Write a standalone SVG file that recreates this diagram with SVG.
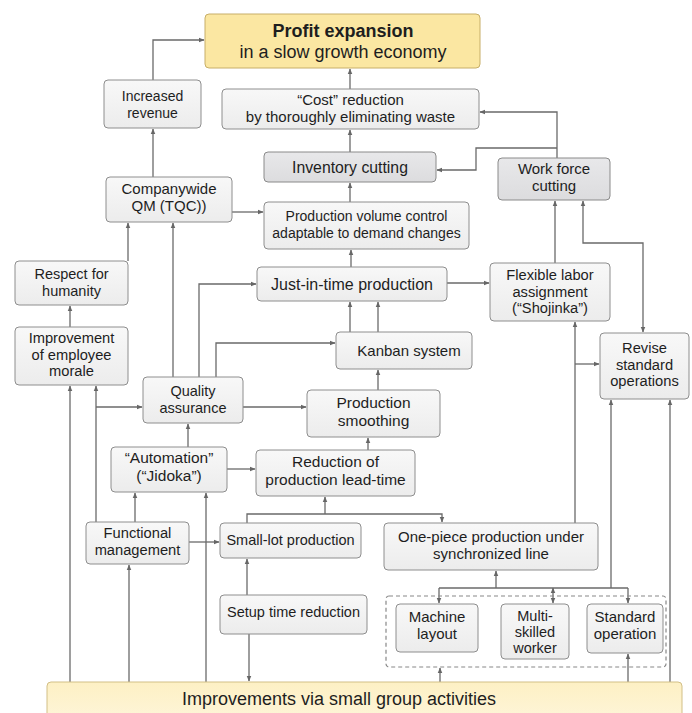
<svg xmlns="http://www.w3.org/2000/svg" width="692" height="713" viewBox="0 0 692 713" font-size="14.7">
<defs>
<marker id="ah" viewBox="0 0 10 10" refX="9" refY="5" markerWidth="6" markerHeight="6" orient="auto-start-reverse" markerUnits="userSpaceOnUse">
<path d="M0,1 L10,5 L0,9 Z" fill="#666"/>
</marker>
<linearGradient id="gBox" x1="0" y1="0" x2="0" y2="1">
<stop offset="0" stop-color="#f8f8f8"/><stop offset="1" stop-color="#ececec"/>
</linearGradient>
<linearGradient id="gDark" x1="0" y1="0" x2="0" y2="1">
<stop offset="0" stop-color="#e8e8ea"/><stop offset="1" stop-color="#dcdcde"/>
</linearGradient>
<linearGradient id="gBottom" x1="0" y1="0" x2="0" y2="1">
<stop offset="0" stop-color="#fdf0c4"/><stop offset="1" stop-color="#fef6dc"/>
</linearGradient>
</defs>
<style>
.box{fill:url(#gBox);stroke:#8e8e8e;stroke-width:1}
.dark{fill:url(#gDark);stroke:#8a8a8a;stroke-width:1}
.yel{fill:#fbe7a2;stroke:#c7ae68;stroke-width:1}
.bot{fill:url(#gBottom);stroke:#d2bf86;stroke-width:1}
.dash{fill:none;stroke:#888;stroke-width:1.2;stroke-dasharray:4 3}
text{font-family:"Liberation Sans",Arial,sans-serif;fill:#1e1e1e;text-anchor:middle}
.bold{font-weight:bold}
.con path{fill:none;stroke:#6a6a6a;stroke-width:1.3}
.ar{marker-end:url(#ah)}
</style>
<rect width="692" height="713" fill="#ffffff"/>

<g class="con" id="connectors">
<path class="ar" d="M153,80 V40 H204"/>
<path class="ar" d="M350,89 V69"/>
<path class="ar" d="M350,152 V130"/>
<path class="ar" d="M557,158 V112 H480"/>
<path class="ar" d="M557,148 H476 V170 H437"/>
<path class="ar" d="M350,202 V183"/>
<path class="ar" d="M153,177 V129"/>
<path class="ar" d="M232,212 H263"/>
<path class="ar" d="M351,267 V250"/>
<path class="ar" d="M128,261 V223"/>
<path class="ar" d="M173,377 V223"/>
<path class="ar" d="M70,327 V306"/>
<path class="ar" d="M199,377 V284 H256"/>
<path class="ar" d="M216,377 V343 H335"/>
<path class="ar" d="M350,332 V302"/>
<path class="ar" d="M378,332 V302"/>
<path class="ar" d="M447,283 H489"/>
<path class="ar" d="M555,263 V201"/>
<path class="ar" d="M583,201 V243 H643 V332" style="marker-start:url(#ah)"/>
<path class="ar" d="M378,390 V370"/>
<path class="ar" d="M243,407 H306"/>
<path class="ar" d="M96,522 V386"/>
<path class="ar" d="M96,407 H142"/>
<path class="ar" d="M70,682 V386"/>
<path class="ar" d="M188,447 V424"/>
<path class="ar" d="M227,469 H255"/>
<path class="ar" d="M368,450 V438"/>
<path class="ar" d="M135,522 V493"/>
<path class="ar" d="M206,682 V493"/>
<path class="ar" d="M189,542 H219"/>
<path class="ar" d="M129,682 V565"/>
<path class="ar" d="M247,523 V514 H442 V522"/>
<path class="ar" d="M325,514 V497"/>
<path class="ar" d="M247,595 V559"/>
<path class="ar" d="M249,634 V681"/>
<path class="ar" d="M575,523 V322"/>
<path class="ar" d="M575,364 H599"/>
<path class="ar" d="M496,588 V571"/>
<path d="M439,588 H628"/>
<path class="ar" d="M439,588 V603"/>
<path class="ar" d="M553,588 V603" style="marker-start:url(#ah)"/>
<path class="ar" d="M628,588 V603"/>
<path class="ar" d="M611,588 V400"/>
<path class="ar" d="M440,682 V668"/>
<path class="ar" d="M628,682 V654"/>
<path class="ar" d="M670,682 V400"/>
</g>

<g id="profit" font-size="18"><rect class="yel" x="205" y="14" width="275" height="54" rx="4"/>
<text class="bold" x="343" y="37">Profit expansion</text><text x="343" y="58">in a slow growth economy</text></g>

<g id="revenue" font-size="14"><rect class="box" x="104" y="80" width="97" height="48" rx="4"/>
<text x="152.5" y="101">Increased</text><text x="152.5" y="117.5">revenue</text></g>

<g id="cost" font-size="15"><rect class="box" x="222" y="89" width="257" height="40" rx="4"/>
<text x="350.5" y="105">“Cost” reduction</text><text x="350.5" y="122">by thoroughly eliminating waste</text></g>

<g id="inventory" font-size="15.8"><rect class="dark" x="264" y="152" width="172" height="30" rx="4"/>
<text x="350" y="172.5">Inventory cutting</text></g>

<g id="workforce" font-size="15"><rect class="dark" x="498" y="158" width="112" height="42" rx="4"/>
<text x="554" y="174">Work force</text><text x="554" y="191">cutting</text></g>

<g id="tqc" font-size="15"><rect class="box" x="106" y="177" width="126" height="45" rx="4"/>
<text x="169" y="194">Companywide</text><text x="169" y="211">QM (TQC))</text></g>

<g id="pvc" font-size="14"><rect class="box" x="264" y="202" width="205" height="47" rx="4"/>
<text x="366.5" y="221">Production volume control</text><text x="366.5" y="237.5">adaptable to demand changes</text></g>

<g id="respect" font-size="14.5"><rect class="box" x="15" y="261" width="113" height="44" rx="4"/>
<text x="71.5" y="279">Respect for</text><text x="71.5" y="295.5">humanity</text></g>

<g id="jit" font-size="16"><rect class="box" x="257" y="267" width="190" height="34" rx="4"/>
<text x="352" y="289.5">Just-in-time production</text></g>

<g id="flexible"><rect class="box" x="490" y="263" width="120" height="58" rx="4"/>
<text x="550" y="280">Flexible labor</text><text x="550" y="296.5">assignment</text><text x="550" y="313">(“Shojinka”)</text></g>

<g id="morale"><rect class="box" x="15" y="327" width="113" height="58" rx="4"/>
<text x="71.5" y="343">Improvement</text><text x="71.5" y="359.5">of employee</text><text x="71.5" y="376">morale</text></g>

<g id="kanban" font-size="15"><rect class="box" x="336" y="332" width="136" height="37" rx="4"/>
<text x="409" y="355.5">Kanban system</text></g>

<g id="revise"><rect class="box" x="600" y="333" width="89" height="66" rx="4"/>
<text x="644.5" y="353">Revise</text><text x="644.5" y="369.5">standard</text><text x="644.5" y="386">operations</text></g>

<g id="qa" font-size="14.5"><rect class="box" x="143" y="377" width="100" height="46" rx="4"/>
<text x="193" y="396">Quality</text><text x="193" y="412.5">assurance</text></g>

<g id="smoothing" font-size="15.5"><rect class="box" x="307" y="390" width="133" height="47" rx="4"/>
<text x="373.5" y="408">Production</text><text x="373.5" y="425.5">smoothing</text></g>

<g id="jidoka" font-size="15.5"><rect class="box" x="111" y="447" width="116" height="45" rx="4"/>
<text x="169" y="463">“Automation”</text><text x="169" y="480.5">(“Jidoka”)</text></g>

<g id="leadtime" font-size="15.5"><rect class="box" x="256" y="450" width="159" height="46" rx="4"/>
<text x="335.5" y="467">Reduction of</text><text x="335.5" y="484.5">production lead-time</text></g>

<g id="functional"><rect class="box" x="86" y="522" width="103" height="42" rx="4"/>
<text x="137.5" y="538">Functional</text><text x="137.5" y="554.5">management</text></g>

<g id="smalllot" font-size="14.5"><rect class="box" x="220" y="523" width="141" height="35" rx="4"/>
<text x="290.5" y="545">Small-lot production</text></g>

<g id="onepiece" font-size="15"><rect class="box" x="384" y="523" width="214" height="47" rx="4"/>
<text x="491" y="542">One-piece production under</text><text x="491" y="559">synchronized line</text></g>

<g id="setup" font-size="14.5"><rect class="box" x="220" y="595" width="147" height="39" rx="4"/>
<text x="293.5" y="617">Setup time reduction</text></g>

<g id="group"><rect class="dash" x="386" y="596" width="280" height="71" rx="3"/></g>

<g id="machine" font-size="15"><rect class="box" x="396" y="604" width="82" height="48" rx="4"/>
<text x="437" y="622">Machine</text><text x="437" y="639">layout</text></g>

<g id="multi" font-size="14.5"><rect class="box" x="501" y="604" width="68" height="55" rx="4"/>
<text x="535" y="620.5">Multi-</text><text x="535" y="636.8">skilled</text><text x="535" y="653.1">worker</text></g>

<g id="standard" font-size="15"><rect class="box" x="587" y="604" width="76" height="49" rx="4"/>
<text x="625" y="622">Standard</text><text x="625" y="639">operation</text></g>

<g id="smallgroup" font-size="18"><rect class="bot" x="47" y="682" width="635" height="45" rx="4"/>
<text x="339" y="705">Improvements via small group activities</text></g>
</svg>
